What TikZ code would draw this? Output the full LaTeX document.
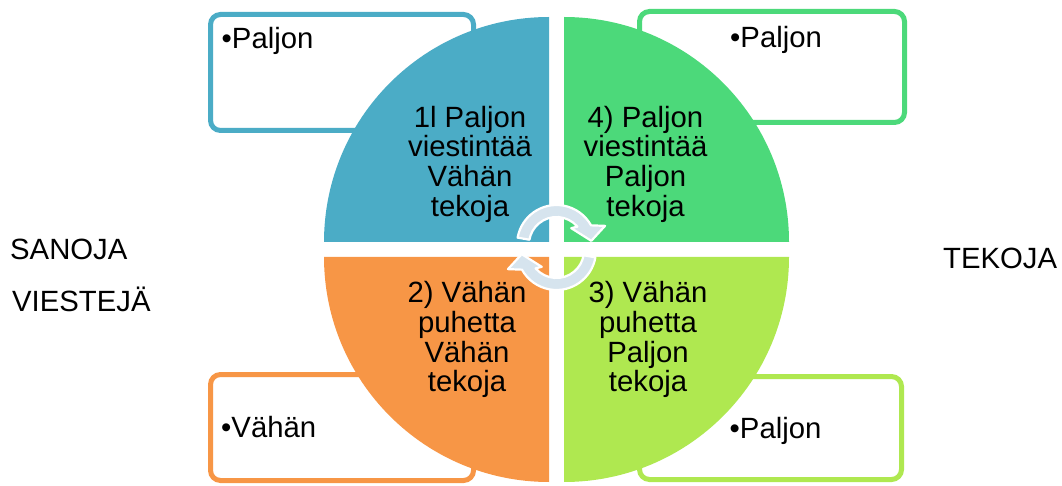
\documentclass[tikz,border=0pt]{standalone}
\usepackage{fontspec}
\setmainfont{Liberation Sans}
\definecolor{quadblue}{RGB}{75,172,198}
\definecolor{quadgreen}{RGB}{76,217,122}
\definecolor{quadorange}{RGB}{247,150,70}
\definecolor{quadlime}{RGB}{175,232,80}
\definecolor{cyclefill}{RGB}{214,228,238}
\begin{document}
\begin{tikzpicture}[x=1pt,y=1pt,
  lbl/.style={inner sep=0pt, font=\fontsize{29.3}{29.8}\selectfont},
  quadtext/.style={lbl, align=center, anchor=north},
  notebox/.style={line width=5pt, rounded corners=10pt, fill=white},
  cyclearrow/.style={fill=cyclefill, draw=white, line width=2.2pt, line join=round}]
\useasboundingbox (0,0) rectangle (1062,485);

% note boxes behind the circle
\draw[notebox, draw=quadblue]   (210.5,354.5) rectangle (473.5,470.5);
\draw[notebox, draw=quadgreen]  (639.5,362.5) rectangle (904.5,473.5);
\draw[notebox, draw=quadorange] (210.5,4.5)   rectangle (473.5,110.5);
\draw[notebox, draw=quadlime]   (639.5,5.5)   rectangle (901.5,108.5);

\node[lbl, anchor=base west] (noteTL) at (221.5,436) {•Paljon};
\node[lbl, anchor=base west] (noteTR) at (730,437.7) {•Paljon};
\node[lbl, anchor=base west] (noteBL) at (221,47.7) {•Vähän};
\node[lbl, anchor=base west] (noteBR) at (729.5,46.7) {•Paljon};

% the four quarter discs
\fill[quadblue]   (549,243) -- (324,243) arc[start angle=180,end angle=90,radius=225] -- cycle;
\fill[quadgreen]  (564,243) -- (564,468) arc[start angle=90,end angle=0,radius=225] -- cycle;
\fill[quadorange] (549,228) -- (549,3) arc[start angle=270,end angle=180,radius=225] -- cycle;
\fill[quadlime]   (564,228) -- (789,228) arc[start angle=0,end angle=-90,radius=225] -- cycle;

\node[quadtext] (q1) at (470,379.3) {1l Paljon\\viestintää\\Vähän\\tekoja};
\node[quadtext] (q4) at (645.5,379.3) {4) Paljon\\viestintää\\Paljon\\tekoja};
\node[quadtext] (q2) at (467,204) {2) Vähän\\puhetta\\Vähän\\tekoja};
\node[quadtext] (q3) at (648,204) {3) Vähän\\puhetta\\Paljon\\tekoja};

% side labels
\node[lbl, anchor=base west] (sanoja) at (10,225) {SANOJA};
\node[lbl, anchor=base west] (viesteja) at (12,173.3) {VIESTEJÄ};
\node[lbl, anchor=base west] (tekoja) at (943,216) {TEKOJA};

% circular arrows in the middle
\begin{scope}[shift={(556.5,240.5)}]
  \draw[cyclearrow] (170:39.5) arc[start angle=170,end angle=29,radius=39.5]
    -- (21:52) -- (6:35) -- (48:22) -- (40.5:27.5)
    arc[start angle=40.5,end angle=170,radius=27.5] -- cycle;
\end{scope}
\begin{scope}[shift={(556.5,234.5)}]
  \draw[cyclearrow] (350:39.5) arc[start angle=350,end angle=209,radius=39.5]
    -- (201:52) -- (186:35) -- (228:22) -- (220.5:27.5)
    arc[start angle=220.5,end angle=350,radius=27.5] -- cycle;
\end{scope}
\end{tikzpicture}
\end{document}
